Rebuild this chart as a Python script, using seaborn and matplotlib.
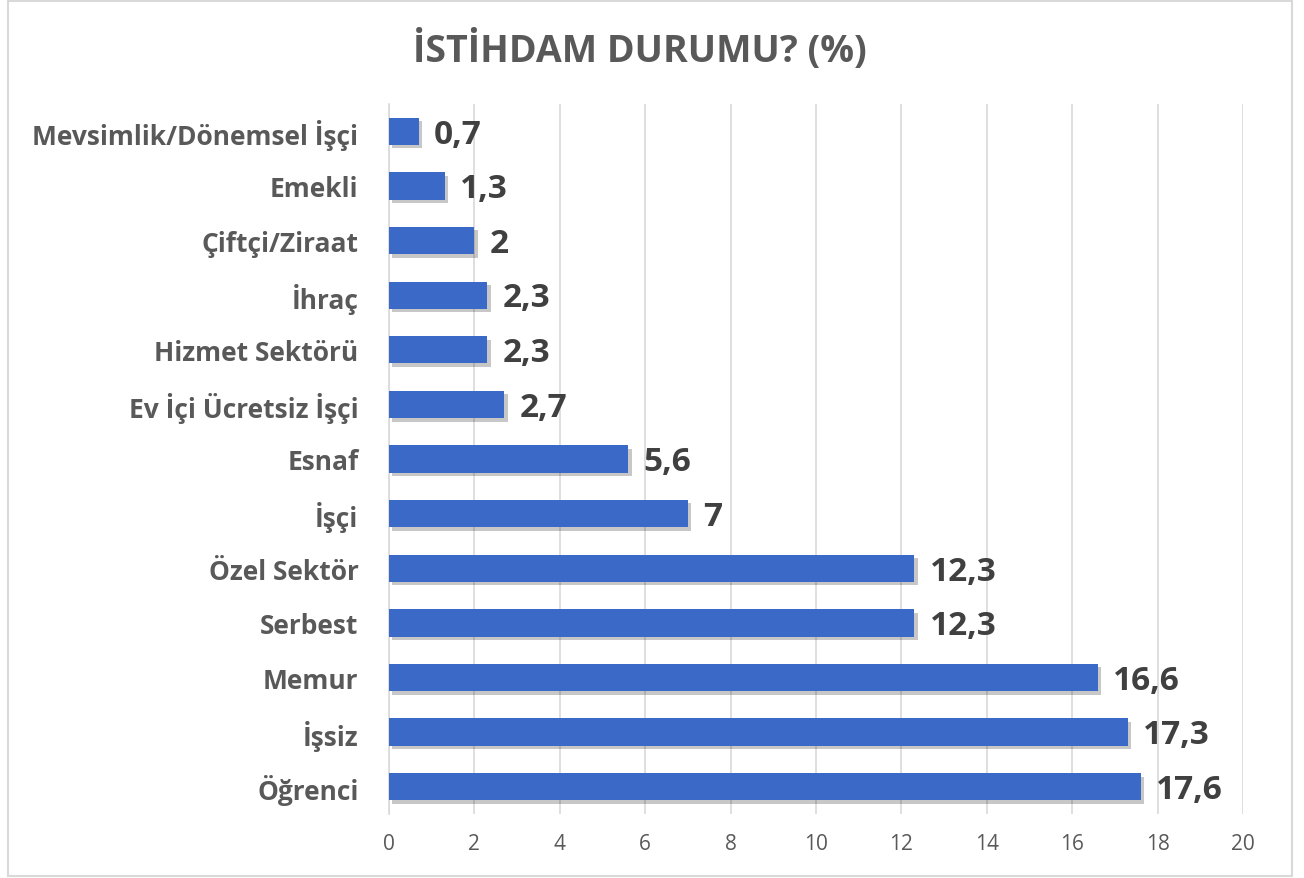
import matplotlib
matplotlib.use("Agg")
import matplotlib.pyplot as plt
import matplotlib.patheffects as pe
from matplotlib.patches import Rectangle
import seaborn as sns
import pandas as pd

categories = ["Mevsimlik/Dönemsel İşçi", "Emekli", "Çiftçi/Ziraat", "İhraç",
              "Hizmet Sektörü", "Ev İçi Ücretsiz İşçi", "Esnaf", "İşçi",
              "Özel Sektör", "Serbest", "Memur", "İşsiz", "Öğrenci"]
values = [0.7, 1.3, 2, 2.3, 2.3, 2.7, 5.6, 7, 12.3, 12.3, 16.6, 17.3, 17.6]
xticks = [0, 2, 4, 6, 8, 10, 12, 14, 16, 18, 20]
title = "İSTİHDAM DURUMU? (%)"

sns.set_theme(style="white")
plt.rcParams['font.family'] = ['Open Sans', 'DejaVu Sans']

df = pd.DataFrame({"cat": categories, "val": values})

fig = plt.figure(figsize=(13.04, 8.79), dpi=100)
ax = fig.add_axes([389/1304, 1-815/879, (1243-389)/1304, (815-105)/879])

sns.barplot(data=df, x="val", y="cat", orient="h", color="#3b69c7",
            saturation=1, width=0.5, ax=ax, zorder=3, linewidth=0, edgecolor="none")
for p in ax.patches:
    p.set_linewidth(0)
    p.set_path_effects([pe.SimplePatchShadow(offset=(2.5, -2.5), shadow_rgbFace="#000000", alpha=0.22),
                        pe.Normal()])

ax.set_xlim(0, 20)
ax.set_xticks(xticks)
ax.set_xticklabels([str(t) for t in xticks])
ax.tick_params(axis='x', length=0, pad=14, labelsize=15, labelcolor="#595959")
ax.tick_params(axis='y', length=0, pad=22)
for lab in ax.get_yticklabels():
    lab.set_fontsize(19)
    lab.set_fontweight('bold')
    lab.set_color('#595959')
ax.set_xlabel("")
ax.set_ylabel("")
ax.grid(axis='x', color="#d9d9d9", linewidth=1.2, zorder=0)
ax.set_axisbelow(True)
for s in ["top", "right", "bottom"]:
    ax.spines[s].set_visible(False)
ax.spines["left"].set_color("#d9d9d9")
ax.spines["left"].set_linewidth(1.2)

def fmt(v):
    if float(v).is_integer():
        return str(int(v))
    return f"{v:.1f}".replace(".", ",")

for i, v in enumerate(values):
    ax.annotate(fmt(v), xy=(v, i), xytext=(11, -2), textcoords="offset points",
                va="center", ha="left", fontsize=24, fontweight="bold", color="#404040")

fig.text(640/1304, 1-50/879, title, ha="center", va="center", fontsize=27,
         fontweight="bold", color="#595959")

fig.patches.append(Rectangle((8/1304, 1-877/879), (1292-8)/1304, (877-2)/879,
                             transform=fig.transFigure, fill=False,
                             edgecolor="#d9d9d9", linewidth=1.5))

fig.savefig("out.png", dpi=100)
